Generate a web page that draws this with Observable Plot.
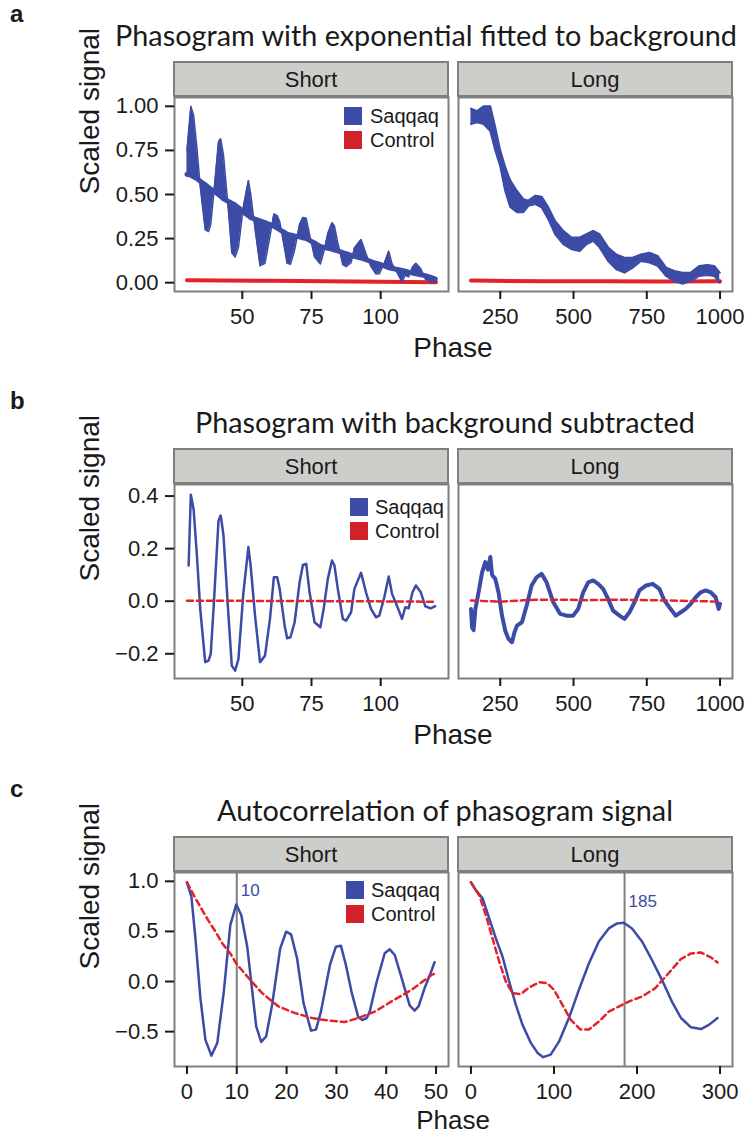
<!DOCTYPE html>
<html><head><meta charset="utf-8">
<script src="https://cdn.jsdelivr.net/npm/d3@7"></script>
<script src="https://cdn.jsdelivr.net/npm/@observablehq/plot@0.6"></script>
<style>
body{margin:0;background:#fff;}
#root{position:relative;width:747px;height:1135px;overflow:hidden;background:#fff;}
</style></head>
<body><div id="root"></div>
<script>
// ---------------- data ----------------
const facets = ["Short", "Long"];
const series = ["Saqqaq", "Control"];

// a: Short — background trend and raw Saqqaq signal
const aShortX = [30,31.4,32.4,33.6,34.8,36.6,37.8,38.6,39.6,41.4,42.2,43.2,45,46.2,47.4,48.6,50.4,52.2,53,54.6,56.4,58.2,60,61.4,62.6,63.5,65.3,66.2,67.4,68.9,70.7,71.9,73.1,74.3,76.1,78.2,79.4,80.9,82.4,83.3,84.5,86.3,87.5,89.3,90.5,92.9,94.7,96.5,98.3,99.5,101.3,102.9,104.1,106.1,107.7,108.9,110.1,111.5,112.7,114.5,116.1,118.1,119.7];
const aShortTrend = [0.615,0.61,0.60,0.59,0.575,0.555,0.54,0.53,0.52,0.50,0.49,0.475,0.46,0.45,0.44,0.425,0.40,0.38,0.37,0.36,0.35,0.34,0.33,0.32,0.31,0.30,0.285,0.275,0.27,0.265,0.26,0.255,0.25,0.24,0.225,0.205,0.20,0.195,0.19,0.185,0.18,0.17,0.165,0.155,0.15,0.14,0.13,0.12,0.11,0.105,0.095,0.085,0.08,0.075,0.07,0.065,0.06,0.055,0.05,0.045,0.04,0.03,0.02];
const aShortSignal = [0.75,1.0,0.95,0.764,0.545,0.30,0.29,0.33,0.49,0.80,0.816,0.725,0.405,0.17,0.145,0.2,0.434,0.58,0.506,0.305,0.095,0.11,0.263,0.39,0.38,0.347,0.192,0.11,0.105,0.185,0.332,0.37,0.365,0.274,0.145,0.106,0.171,0.28,0.34,0.321,0.227,0.103,0.091,0.113,0.197,0.245,0.164,0.091,0.049,0.05,0.11,0.179,0.108,0.052,0.003,0.042,0.033,0.089,0.11,0.079,0.021,0.003,0.005];
const aShortCtrlX = [30,60,90,120];
const aShortCtrlY = [0.014,0.011,0.007,0.003];

// a: Long — band of Saqqaq signal (low/high edges)
const aLongX = [150,171,193,216,233,250,267,284,307,329,346,369,391,414,437,465,493,521,544,567,589,618,646,674,702,730,759,787,816,844,872,900,929,957,980,999];
const aLongHigh = [0.987,0.973,1.0,1.0,0.88,0.75,0.655,0.58,0.52,0.474,0.465,0.493,0.488,0.427,0.35,0.294,0.256,0.256,0.275,0.294,0.275,0.2,0.16,0.142,0.142,0.16,0.17,0.152,0.085,0.066,0.057,0.057,0.095,0.10,0.095,0.057];
const aLongLow = [0.90,0.91,0.90,0.86,0.75,0.66,0.52,0.43,0.40,0.40,0.436,0.446,0.427,0.36,0.275,0.218,0.19,0.18,0.218,0.237,0.2,0.123,0.076,0.057,0.085,0.123,0.114,0.095,0.038,0.009,-0.006,0.009,0.038,0.044,0.038,0.0];
const aLongCtrlX = [150,400,600,800,1000];
const aLongCtrlY = [0.012,0.008,0.008,0.006,0.008];

// b: background subtracted
const bShortX = [30.6,31.4,32.4,33.6,34.8,36.6,37.8,38.6,39.6,41.4,42.2,43.2,45,46.2,47.4,48.6,50.4,52.2,53,54.6,56.4,58.2,60,61.4,62.6,63.5,65.3,66.2,67.4,68.9,70.7,71.9,73.1,74.3,76.1,78.2,79.4,80.9,82.4,83.3,84.5,86.3,87.5,89.3,90.5,92.9,94.7,96.5,98.3,99.5,101.3,102.9,104.1,106.1,107.7,108.9,110.1,111.5,112.7,114.5,116.1,118.1,119.7];
const bShortY = [0.136,0.405,0.35,0.174,-0.03,-0.232,-0.226,-0.20,-0.03,0.307,0.326,0.25,-0.055,-0.245,-0.264,-0.22,0.034,0.206,0.136,-0.055,-0.232,-0.207,-0.067,0.091,0.091,0.047,-0.093,-0.141,-0.137,-0.08,0.072,0.138,0.142,0.034,-0.08,-0.099,-0.029,0.085,0.155,0.136,0.047,-0.067,-0.074,-0.042,0.047,0.108,0.034,-0.029,-0.061,-0.055,0.015,0.094,0.028,-0.023,-0.067,-0.023,-0.027,0.034,0.06,0.034,-0.019,-0.027,-0.019];
const bShortCtrlX = [30,60,90,120];
const bShortCtrlY = [0.002,0.001,0.0,-0.002];
const bLongX = [150,154,159,165,176,188,199,208,216,222,233,244,256,267,278,290,298,307,324,340,357,374,391,408,431,454,476,499,516,533,550,567,584,601,618,635,657,674,691,708,725,748,770,793,810,827,849,866,883,900,917,934,951,968,985,995,1000];
const bLongY = [-0.03,-0.10,-0.11,-0.03,0.034,0.11,0.149,0.12,0.168,0.10,0.085,0.034,-0.055,-0.112,-0.143,-0.156,-0.12,-0.093,-0.08,-0.017,0.06,0.091,0.104,0.072,-0.004,-0.048,-0.055,-0.055,-0.029,0.034,0.072,0.079,0.066,0.047,0.009,-0.036,-0.055,-0.067,-0.042,-0.004,0.041,0.06,0.066,0.047,0.003,-0.023,-0.055,-0.042,-0.029,-0.01,0.015,0.034,0.041,0.034,0.015,-0.029,-0.01];
const bLongCtrlX = [150,250,350,450,550,650,750,850,950,1000];
const bLongCtrlY = [0.003,-0.002,0.005,0.006,0.004,0.006,0.004,0.002,0.0,-0.002];

// c: autocorrelation
const cShortX = [0,0.9,1.7,2.7,3.7,4.9,6.1,7.4,8.7,9.9,10.9,12.1,13.9,14.9,15.9,17.1,18.7,19.9,20.9,22.1,23.4,24.9,25.9,26.9,28.7,29.9,30.9,31.9,33.1,34.4,35.2,36.1,36.7,38.1,39.7,40.7,41.7,43.1,44.7,45.7,46.5,47.7,48.9,49.7];
const cShortY = [0.99,0.845,0.43,-0.166,-0.58,-0.74,-0.61,-0.1,0.563,0.769,0.663,0.348,-0.447,-0.603,-0.547,-0.232,0.325,0.497,0.47,0.232,-0.215,-0.49,-0.48,-0.298,0.166,0.348,0.358,0.166,-0.116,-0.358,-0.384,-0.364,-0.298,0,0.282,0.321,0.265,0.033,-0.239,-0.29,-0.249,-0.066,0.083,0.192];
const cShortCtrlX = [0,1.7,3.1,4.4,5.7,7.1,8.7,9.9,12.4,15.1,18.4,21.7,25.1,28.4,31.7,34.4,37.7,41.7,45.1,49.1,50];
const cShortCtrlY = [0.99,0.83,0.71,0.6,0.5,0.38,0.28,0.18,0.033,-0.116,-0.25,-0.315,-0.364,-0.39,-0.404,-0.364,-0.3,-0.18,-0.083,0.066,0.083];
const cLongX = [0,6,14,22,30,38,46,54,62,72,80,87,96,106,118,130,142,154,166,176,184,194,206,218,230,242,253,265,277,287,297];
const cLongY = [0.99,0.91,0.83,0.63,0.43,0.25,0.0,-0.23,-0.43,-0.61,-0.71,-0.755,-0.73,-0.6,-0.365,-0.083,0.18,0.40,0.53,0.58,0.586,0.53,0.40,0.215,0.017,-0.2,-0.364,-0.457,-0.474,-0.43,-0.364];
const cLongCtrlX = [0,10,18,26,34,42,50,60,70,82,92,100,110,120,132,142,154,166,178,190,206,222,238,253,265,277,289,297];
const cLongCtrlY = [0.99,0.86,0.66,0.43,0.2,0.0,-0.116,-0.126,-0.06,-0.007,-0.017,-0.083,-0.23,-0.38,-0.48,-0.48,-0.40,-0.30,-0.25,-0.2,-0.15,-0.066,0.083,0.225,0.28,0.29,0.24,0.19];
const cPeaks = [10, 185];

// tick values
const aShortTicks = [50,75,100], aLongTicks = [250,500,750,1000];
const aYTicks = [0,0.25,0.5,0.75,1];
const bYTicks = [-0.2,0,0.2,0.4];
const cShortTicks = [0,10,20,30,40,50], cLongTicks = [0,100,200,300];
const cYTicks = [-0.5,0,0.5,1];
const titles = ["Phasogram with exponential fitted to background","Phasogram with background subtracted","Autocorrelation of phasogram signal"];
const panelLetters = ["a","b","c"];

// ---------------- styling / layout ----------------
const BLUE = "#3c4ba6", RED = "#e3222a", RED_KEY = "#d3212a", GRID = "#7f7f7f";
const FONT = "'Liberation Sans', Arial, Helvetica, sans-serif";
const TFONT = "Lato, 'Open Sans', sans-serif";
const PH = 194;               // panel height
const rowsLayout = [
  {stripTop: 61, titleCx: 426, phaseY: 357, phaseSize: 28, legend: {x: 344, y: 107, tx: 370}, xDom: [[25.5,124.5],[107.5,1042.5]], yDom: [-0.05,1.05]},
  {stripTop: 448, titleCx: 445, phaseY: 744, phaseSize: 28, legend: {x: 350, y: 498, tx: 375}, xDom: [[25.5,124.5],[107.5,1042.5]], yDom: [-0.294,0.444]},
  {stripTop: 836, titleCx: 445, phaseY: 1129, phaseSize: 26, legend: {x: 346, y: 881, tx: 371}, xDom: [[-2.5,52.5],[-15,315]], yDom: [-0.848,1.088]}
];
const zip = (xs, ys) => xs.map((x, i) => ({x, y: ys[i]}));
const root = document.getElementById("root");

function panel(row, side, marks, xTicks, yTicks, yFmt) {
  const L = rowsLayout[row];
  const isShort = side === 0;
  const width = isShort ? 453 : 294;
  const p = Plot.plot({
    width, height: PH + 2 + 36,
    marginTop: 2, marginBottom: 36,
    marginLeft: isShort ? 174 : 5, marginRight: isShort ? 5 : 15,
    style: {background: "transparent", fontFamily: FONT, fontSize: "22px", color: "#1a1a1a", overflow: "visible"},
    x: {domain: L.xDom[side]},
    y: {domain: L.yDom, axis: null},
    marks: [
      ...marks,
      Plot.frame({stroke: GRID, strokeWidth: 2}),
      Plot.axisX({ticks: xTicks, tickFormat: d3.format("d"), tickSize: 8, tickPadding: 9, fontSize: 22, strokeWidth: 2, label: null}),
      isShort ? Plot.axisY({ticks: yTicks, tickFormat: d3.format(yFmt), tickSize: 9, tickPadding: 7, fontSize: 22, strokeWidth: 2, label: null}) : null,
      isShort ? Plot.text(["Scaled signal"], {frameAnchor: "left", dx: -84, rotate: -90, fontSize: 28, fill: "#1a1a1a"}) : null
    ]
  });
  p.style.position = "absolute";
  p.style.left = (isShort ? 0 : 453) + "px";
  p.style.top = (L.stripTop + 36 - 2) + "px";
  root.appendChild(p);
}

// row a
const aShortData = aShortX.map((x, i) => ({x, t: aShortTrend[i], s: aShortSignal[i]}));
panel(0, 0, [
  Plot.line(zip(aShortCtrlX, aShortCtrlY), {x: "x", y: "y", stroke: RED, strokeWidth: 4}),
  Plot.areaY(aShortData, {x: "x", y1: "t", y2: "s", fill: BLUE}),
  Plot.line(aShortData, {x: "x", y: "t", stroke: BLUE, strokeWidth: 5}),
  Plot.line(aShortData, {x: "x", y: "s", stroke: BLUE, strokeWidth: 1.5})
], aShortTicks, aYTicks, ".2f");
const aLongData = aLongX.map((x, i) => ({x, lo: aLongLow[i], hi: aLongHigh[i]}));
panel(0, 1, [
  Plot.line(zip(aLongCtrlX, aLongCtrlY), {x: "x", y: "y", stroke: RED, strokeWidth: 4}),
  Plot.areaY(aLongData, {x: "x", y1: "lo", y2: "hi", fill: BLUE}),
  Plot.line(aLongData, {x: "x", y: "lo", stroke: BLUE, strokeWidth: 2}),
  Plot.line(aLongData, {x: "x", y: "hi", stroke: BLUE, strokeWidth: 2})
], aLongTicks, aYTicks, ".2f");

// row b
panel(1, 0, [
  Plot.line(zip(bShortX, bShortY), {x: "x", y: "y", stroke: BLUE, strokeWidth: 2.5}),
  Plot.line(zip(bShortCtrlX, bShortCtrlY), {x: "x", y: "y", stroke: RED, strokeWidth: 2.5, strokeDasharray: "6,4"})
], aShortTicks, bYTicks, ".1f");
panel(1, 1, [
  Plot.line(zip(bLongX, bLongY), {x: "x", y: "y", stroke: BLUE, strokeWidth: 4}),
  Plot.line(zip(bLongCtrlX, bLongCtrlY), {x: "x", y: "y", stroke: RED, strokeWidth: 2.5, strokeDasharray: "6,4"})
], aLongTicks, bYTicks, ".1f");

// row c
panel(2, 0, [
  Plot.ruleX([cPeaks[0]], {stroke: GRID, strokeWidth: 2}),
  Plot.line(zip(cShortX, cShortY), {x: "x", y: "y", stroke: BLUE, strokeWidth: 2.5}),
  Plot.line(zip(cShortCtrlX, cShortCtrlY), {x: "x", y: "y", stroke: RED, strokeWidth: 2.5, strokeDasharray: "6,4"}),
  Plot.text([cPeaks[0]], {x: d => d, y: 0.91, text: d => String(d), dx: 4, textAnchor: "start", fill: BLUE, fontSize: 17})
], cShortTicks, cYTicks, ".1f");
panel(2, 1, [
  Plot.ruleX([cPeaks[1]], {stroke: GRID, strokeWidth: 2}),
  Plot.line(zip(cLongX, cLongY), {x: "x", y: "y", stroke: BLUE, strokeWidth: 2.5}),
  Plot.line(zip(cLongCtrlX, cLongCtrlY), {x: "x", y: "y", stroke: RED, strokeWidth: 2.5, strokeDasharray: "6,4"}),
  Plot.text([cPeaks[1]], {x: d => d, y: 0.80, text: d => String(d), dx: 4, textAnchor: "start", fill: BLUE, fontSize: 17})
], cLongTicks, cYTicks, ".1f");

// ---------------- overlay: titles, strips, legends, axis titles ----------------
const ov = d3.select(root).append("svg")
  .attr("width", 747).attr("height", 1135)
  .style("position", "absolute").style("left", 0).style("top", 0)
  .style("pointer-events", "none").style("font-family", FONT);

rowsLayout.forEach((L, r) => {
  const st = L.stripTop;
  ov.append("text").attr("x", 10).attr("y", st - 39).attr("font-size", 24).attr("font-weight", "bold").attr("fill", "#1a1a1a").text(panelLetters[r]);
  ov.append("text").attr("x", L.titleCx).attr("y", st - 15).attr("text-anchor", "middle")
    .attr("font-family", TFONT).attr("font-size", 28.8).attr("fill", "#1a1a1a").text(titles[r]);
  [[173, facets[0]], [457, facets[1]]].forEach(([x0, name]) => {
    ov.append("rect").attr("x", x0 + 1).attr("y", st + 1).attr("width", 274).attr("height", 34)
      .attr("fill", "#cdcdca").attr("stroke", GRID).attr("stroke-width", 2);
    ov.append("text").attr("x", x0 + 138).attr("y", st + 26).attr("text-anchor", "middle")
      .attr("font-size", 22).attr("fill", "#1a1a1a").text(name);
  });
  const lg = L.legend;
  series.forEach((s, i) => {
    ov.append("rect").attr("x", lg.x).attr("y", lg.y + i * 24).attr("width", 18).attr("height", 18)
      .attr("fill", i === 0 ? BLUE : RED_KEY);
    ov.append("text").attr("x", lg.tx).attr("y", lg.y + i * 24 + 16).attr("font-size", 20).attr("fill", "#1a1a1a").text(s);
  });
  ov.append("text").attr("x", 453).attr("y", L.phaseY).attr("text-anchor", "middle")
    .attr("font-size", L.phaseSize).attr("fill", "#1a1a1a").text("Phase");
});
</script>
</body></html>
